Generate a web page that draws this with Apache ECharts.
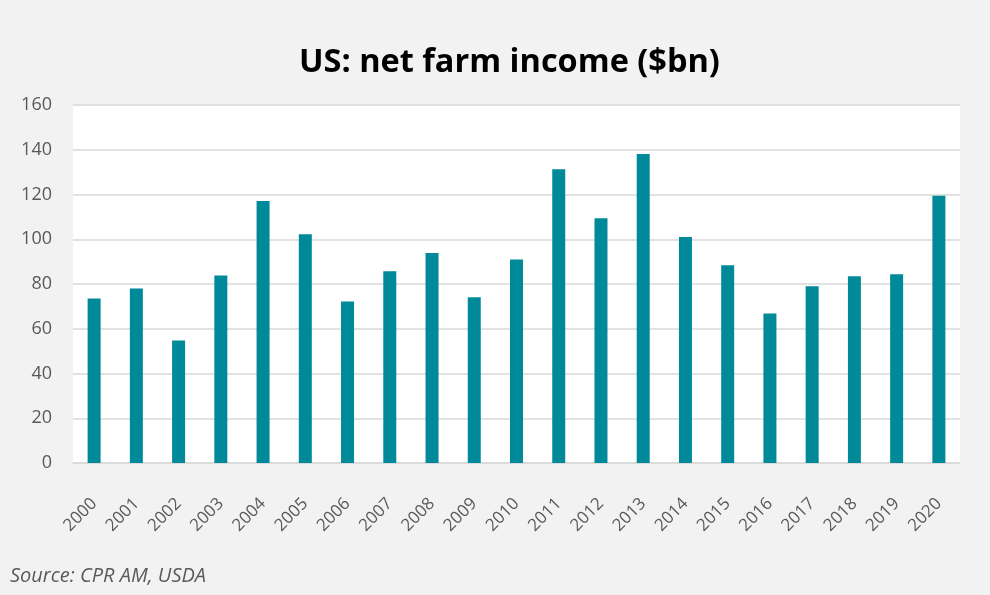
<!DOCTYPE html>
<html>
<head>
<meta charset="utf-8">
<title>US: net farm income ($bn)</title>
<script src="https://cdn.jsdelivr.net/npm/echarts@6/dist/echarts.min.js"></script>
<style>
  html, body { margin: 0; padding: 0; background: #f2f2f2; }
  #chart { width: 990px; height: 595px; }
</style>
</head>
<body>
<div id="chart"></div>
<script>
// Net farm income by year, $bn
const years = ['2000', '2001', '2002', '2003', '2004', '2005', '2006', '2007', '2008', '2009', '2010',
               '2011', '2012', '2013', '2014', '2015', '2016', '2017', '2018', '2019', '2020'];
const netFarmIncome = [73.5, 78.0, 54.7, 83.8, 117.1, 102.2, 72.2, 85.7, 93.8, 74.1, 91.0,
                       131.3, 109.4, 138.1, 101.0, 88.4, 66.8, 79.0, 83.5, 84.4, 119.4];
const yTicks = { min: 0, max: 160, interval: 20 };

const FONT = '"Open Sans", "Noto Sans", sans-serif';
const chart = echarts.init(document.getElementById('chart'), null, { renderer: 'canvas' });

chart.setOption({
  backgroundColor: '#f2f2f2',
  animation: false,
  title: {
    text: 'US: net farm income ($bn)',
    left: 294,
    top: 41,
    textStyle: { fontFamily: FONT, fontWeight: 'bold', fontSize: 32.5, color: '#000000' }
  },
  graphic: [{
    type: 'text',
    left: 10,
    top: 566,
    style: {
      text: 'Source: CPR AM, USDA',
      font: 'italic 20px ' + FONT,
      fill: '#595959'
    }
  }],
  grid: {
    left: 73, right: 30, top: 105, bottom: 132,
    show: true, backgroundColor: '#ffffff', borderWidth: 0
  },
  xAxis: {
    type: 'category',
    data: years,
    // push the rotated year labels a little further below the axis line
    offset: 14,
    axisLine: { show: true, lineStyle: { color: '#d9d9d9', width: 1.5 } },
    axisTick: { show: false },
    axisLabel: {
      rotate: 45,
      margin: 24,
      fontFamily: FONT,
      fontSize: 17,
      color: '#595959'
    }
  },
  yAxis: {
    type: 'value',
    min: yTicks.min,
    max: yTicks.max,
    interval: yTicks.interval,
    axisLine: { show: false },
    axisTick: { show: false },
    axisLabel: { margin: 21, fontFamily: FONT, fontSize: 18, color: '#595959' },
    splitLine: { lineStyle: { color: '#d9d9d9', width: 1.5 } }
  },
  series: [{
    type: 'bar',
    data: netFarmIncome,
    barWidth: 13,
    itemStyle: { color: '#008a99' }
  }]
});
</script>
</body>
</html>
